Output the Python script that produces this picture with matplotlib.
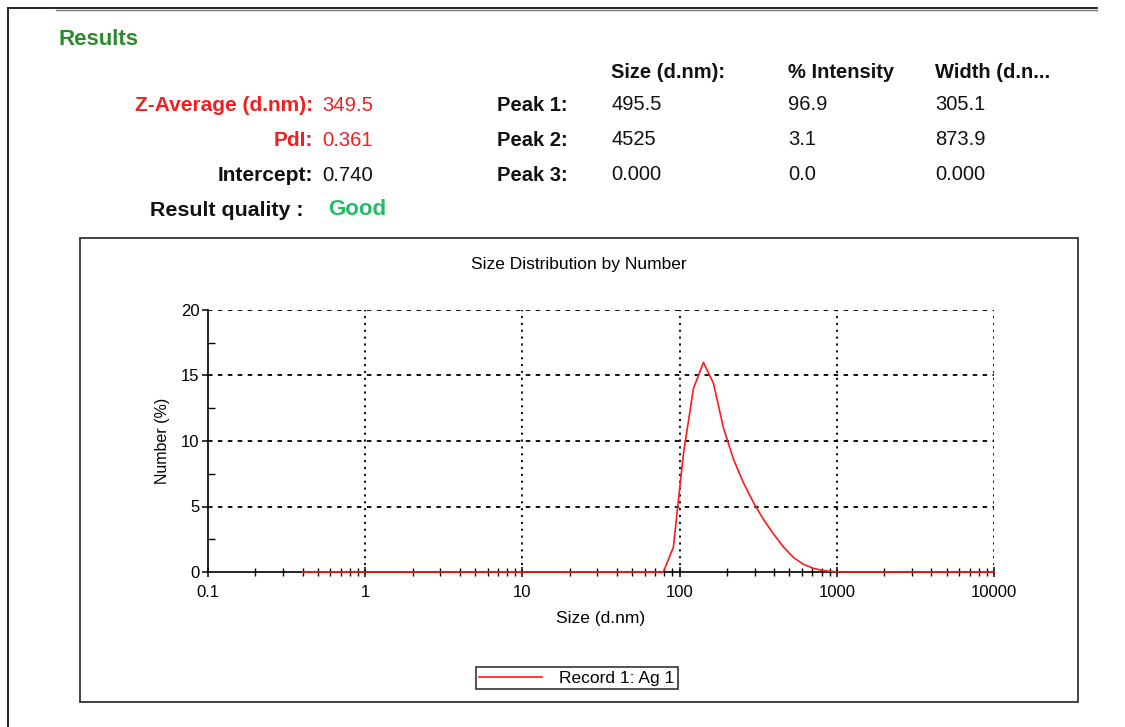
import matplotlib
matplotlib.use("Agg")
import matplotlib.pyplot as plt
from matplotlib.lines import Line2D
from matplotlib.patches import Rectangle
from matplotlib.ticker import FixedLocator, NullFormatter

# ---------------- data ----------------
sizes_nm = [0.4, 78.8, 91.3, 105.7, 122.4, 141.8, 164.2, 190.1, 220.2, 255.0,
            295.3, 342.0, 396.1, 458.7, 531.2, 615.1, 712.4, 825.0, 955.4,
            1106.0, 10000.0]
number_pct = [0.0, 0.0, 1.9, 9.0, 14.0, 16.0, 14.4, 11.0, 8.6, 6.8,
              5.3, 4.0, 2.9, 1.9, 1.1, 0.58, 0.27, 0.10, 0.03,
              0.0, 0.0]
series_label = "Record 1: Ag 1"

x_major = [0.1, 1, 10, 100, 1000, 10000]
x_major_labels = ["0.1", "1", "10", "100", "1000", "10000"]
y_major = [0, 5, 10, 15, 20]
y_minor = [2.5, 7.5, 12.5, 17.5]

summary_labels = ["Z-Average (d.nm):", "PdI:", "Intercept:"]
summary_values = ["349.5", "0.361", "0.740"]
peak_labels = ["Peak 1:", "Peak 2:", "Peak 3:"]
peak_headers = ["Size (d.nm):", "% Intensity", "Width (d.n..."]
peak_size = ["495.5", "4525", "0.000"]
peak_intensity = ["96.9", "3.1", "0.0"]
peak_width = ["305.1", "873.9", "0.000"]
quality = "Good"

# ---------------- figure ----------------
W, H = 1125, 727
plt.rcParams['font.family'] = ['Liberation Sans', 'DejaVu Sans']
fig = plt.figure(figsize=(W / 100, H / 100), dpi=100)
fig.patch.set_facecolor("white")


def fx(px):
    return px / W


def fy(py):
    return 1 - py / H


# outer frame lines
fig.add_artist(Line2D([fx(8), fx(8)], [fy(8), fy(727)], color="black", lw=1.2))
fig.add_artist(Line2D([fx(8), fx(1097)], [fy(8), fy(8)], color="black", lw=1.2))
fig.add_artist(Line2D([fx(56), fx(1097)], [fy(10), fy(10)], color="#777777", lw=1.0))

# chart box
fig.add_artist(Rectangle((fx(80), fy(702)), fx(1078) - fx(80), fy(238) - fy(702),
                         fill=False, edgecolor="#333333", lw=1.3))

RED = "#f02020"
fig.text(fx(58), fy(45), "Results", color="#2a8a2a", fontsize=16,
         fontweight="bold", va="baseline", ha="left")

rows_base = [111, 146, 181]
label_colors = [RED, RED, "#111111"]
for lab, val, yy, c in zip(summary_labels, summary_values, rows_base, label_colors):
    fig.text(fx(313), fy(yy), lab, color=c, fontsize=15, fontweight="bold",
             ha="right", va="baseline")
    fig.text(fx(322), fy(yy), val, color=c, fontsize=14.6, ha="left", va="baseline")

fig.text(fx(303), fy(216), "Result quality :", color="#111111", fontsize=15.4,
         fontweight="bold", ha="right", va="baseline")
fig.text(fx(328), fy(215), quality, color="#22bb66", fontsize=16,
         fontweight="bold", ha="left", va="baseline")

col_x = [611, 788, 935]
for hdr, xx in zip(peak_headers, col_x):
    fig.text(fx(xx), fy(78), hdr, color="#111111", fontsize=14.5,
             fontweight="bold", ha="left", va="baseline")
for lab, yy in zip(peak_labels, rows_base):
    fig.text(fx(497), fy(yy), lab, color="#111111", fontsize=14.5,
             fontweight="bold", ha="left", va="baseline")
for col, xx in zip([peak_size, peak_intensity, peak_width], col_x):
    for v, yy in zip(col, rows_base):
        fig.text(fx(xx), fy(yy - 1), v, color="#111111", fontsize=14.5,
                 ha="left", va="baseline")

# ---------------- axes ----------------
ax = fig.add_axes([fx(208), fy(572), fx(994) - fx(208), fy(310) - fy(572)])
ax.set_xscale("log")
ax.set_xlim(0.1, 10000)
ax.set_ylim(0, 20)

line, = ax.plot(sizes_nm, number_pct, color="#ff1a1a", lw=1.2, label=series_label,
                zorder=5, clip_on=False)

for spine in ["top", "right"]:
    ax.spines[spine].set_visible(False)
for spine in ["left", "bottom"]:
    ax.spines[spine].set_linewidth(1.2)
    ax.spines[spine].set_color("black")

ax.xaxis.set_major_locator(FixedLocator(x_major))
ax.set_xticklabels(x_major_labels)
minor = []
for dec in x_major[:-1]:
    for m in range(2, 10):
        minor.append(dec * m)
ax.xaxis.set_minor_locator(FixedLocator(minor))
ax.xaxis.set_minor_formatter(NullFormatter())
ax.yaxis.set_major_locator(FixedLocator(y_major))
ax.yaxis.set_minor_locator(FixedLocator(y_minor))

ax.tick_params(axis="x", which="major", direction="inout", length=7, width=1.1,
               labelsize=12, pad=6, colors="black")
ax.tick_params(axis="x", which="minor", direction="inout", length=6, width=1.0)
ax.tick_params(axis="y", which="major", direction="out", length=4, width=1.1,
               labelsize=12, pad=2)
ax.tick_params(axis="y", which="minor", direction="in", length=5, width=1.0)

# dotted grid
for yv in y_major[1:]:
    ax.axhline(yv, color="black", lw=1.3, ls=(0, (2.5, 3.0)), zorder=1)
for xv in x_major[1:]:
    ax.axvline(xv, color="black", lw=1.3, ls=(0, (1.2, 2.6)), zorder=1)

fig.text(fx(579), fy(264), "Size Distribution by Number", fontsize=12.5,
         ha="center", va="center")
ax.set_xlabel("Size (d.nm)", fontsize=12.5, labelpad=8)
ax.set_ylabel("Number (%)", fontsize=11.5, labelpad=8)

leg = ax.legend(handles=[line], loc="center", bbox_to_anchor=(fx(577), fy(678)),
                bbox_transform=fig.transFigure, frameon=True, fancybox=False,
                fontsize=12.5, handlelength=3.6, handletextpad=1.0,
                borderpad=0.2, borderaxespad=0)
leg.get_frame().set_edgecolor("black")
leg.get_frame().set_linewidth(1.2)

fig.savefig("out.png", dpi=100, facecolor="white")
